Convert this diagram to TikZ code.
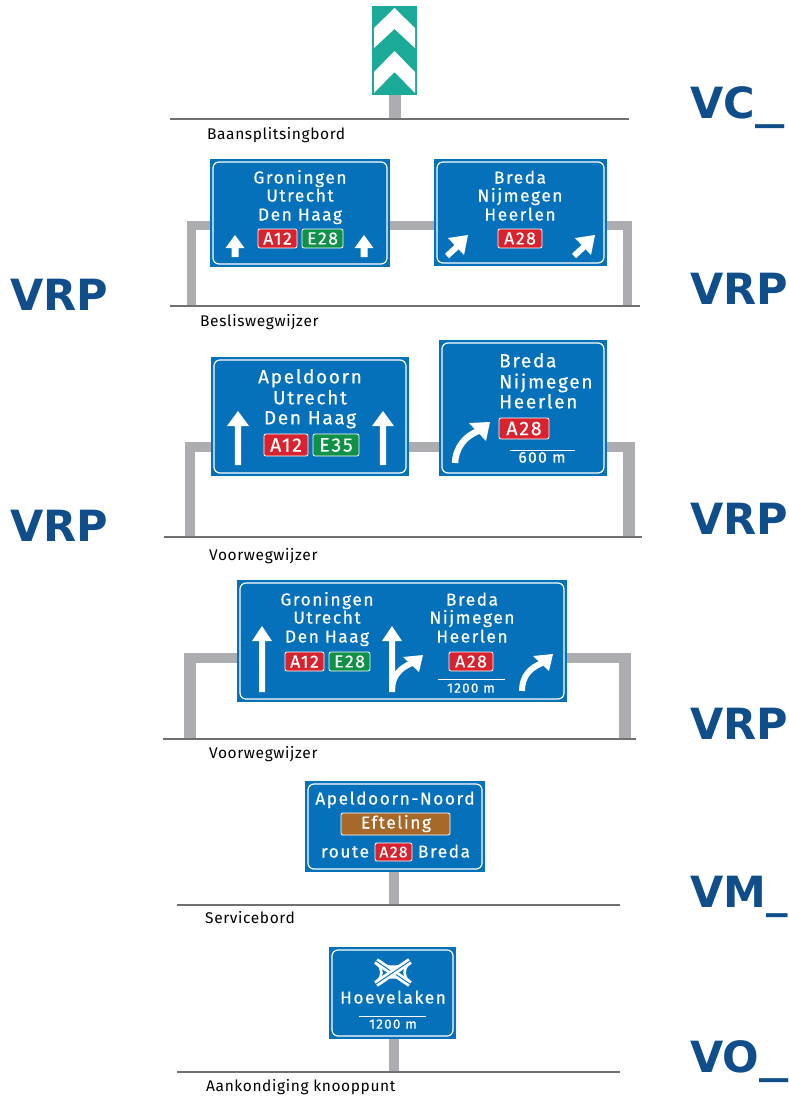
\documentclass[tikz,border=0pt]{standalone}
\usepackage{fontspec}
\setmainfont{Fira Sans}
\newfontfamily\signfont[LetterSpace=9,FakeBold=0.5]{Fira Sans}
\newfontfamily\labelfont[LetterSpace=4]{Fira Sans}
\newfontfamily\codefont{DejaVu Sans}
\definecolor{signblue}{HTML}{0571BA}
\definecolor{postgrey}{HTML}{ABADB0}
\definecolor{groundgrey}{HTML}{707070}
\definecolor{shieldred}{HTML}{D8232F}
\definecolor{shieldgreen}{HTML}{0F9148}
\definecolor{brownsign}{HTML}{A8682A}
\definecolor{chevteal}{HTML}{1BAA98}
\definecolor{codeblue}{HTML}{104E8B}
\newcommand{\wideus}{\scalebox{1.36}[1]{\_}}
\tikzset{
 x=1pt,y=-1pt,
 post/.style={fill=postgrey,draw=none},
 ground/.style={draw=groundgrey,line width=1.1pt},
 signbg/.style={fill=signblue,draw=none},
 signrim/.style={draw=white,line width=1.2pt,rounded corners=6pt},
 signtext/.style={text=white,inner sep=0pt,anchor=base,yshift=-5.5pt,font=\signfont\fontsize{17.3}{17.3}\selectfont},
 bigtext/.style={text=white,inner sep=0pt,anchor=base,yshift=-6.3pt,font=\signfont\fontsize{19}{19}\selectfont},
 dist/.style={text=white,inner sep=0pt,anchor=base,yshift=-4.6pt,font=\signfont\fontsize{13.5}{13.5}\selectfont},
 shield/.style={text=white,inner sep=0pt},
 caption/.style={text=black,inner sep=0pt,anchor=base west,font=\labelfont\fontsize{15.5}{15.5}\selectfont},
 code/.style={text=codeblue,inner sep=0pt,anchor=base west,font=\codefont\bfseries\fontsize{43}{43}\selectfont},
 whiteline/.style={draw=white,line width=0.8pt},
 stem/.style={draw=white,line width=6.4pt},
}
\newcommand{\panel}[5]{%
 \path[signbg] (#2,#3) rectangle (#4,#5);
 \coordinate (#1) at (#2,#3);
 \draw[signrim] (#2+3,#3+3) rectangle (#4-3,#5-3);
}
\newcommand{\shieldbox}[7]{%
 \draw[fill=#6,draw=white,line width=0.8pt,rounded corners=2pt] (#2,#3) rectangle (#4,#5);
 \node[shield,font=\signfont\fontsize{#1}{#1}\selectfont] at ({(#2+#4)/2},{(#3+#5)/2}) {#7};
}
\newcommand{\straightarrow}[6]{%
 \fill[white] (#1-#6/2,#3) -- (#1-#6/2,#2+#5) -- (#1-#4/2,#2+#5) -- (#1,#2) -- (#1+#4/2,#2+#5) -- (#1+#6/2,#2+#5) -- (#1+#6/2,#3) -- cycle;
}
\newcommand{\diagarrow}[2]{%
 \draw[white,line width=6pt] (#1,#2) -- ++(14,-13);
 \fill[white] (#1+21,#2-21) -- (#1+1,#2-18) -- (#1+17,#2-1) -- cycle;
}
\begin{document}
\begin{tikzpicture}
\useasboundingbox (0,0) rectangle (788,1096);
\fill[white] (0,0) rectangle (788,1096);

% --- Baansplitsingbord
\path[post] (389,95) rectangle (401,119);
\fill[chevteal] (372,6) rectangle (417,95);
\fill[white] (394.5,8) -- (415,28) -- (415,48) -- (394.5,29) -- (374,48) -- (374,28) -- cycle;
\fill[white] (394.5,51) -- (415,72) -- (415,93) -- (394.5,72) -- (374,93) -- (374,72) -- cycle;
\draw[ground] (170,119) -- (629,119);
\node[caption] (capA) at (207,139) {Baansplitsingbord};

% --- Besliswegwijzer
\path[post] (187,221) rectangle (196,306);
\path[post] (187,221) rectangle (632,230);
\path[post] (623,221) rectangle (632,306);
\panel{s1}{210}{159}{390}{267}
\panel{s2}{434}{159}{607}{266}
\node[signtext] (t1a) at (300,178) {Groningen};
\node[signtext] (t1b) at (300,196) {Utrecht};
\node[signtext] (t1c) at (300,215) {Den Haag};
\shieldbox{17.5}{258}{229}{297}{248}{shieldred}{A12}
\shieldbox{17.5}{302}{229}{343}{248}{shieldgreen}{E28}
\straightarrow{235}{235}{257}{19}{13}{7}
\straightarrow{364}{235}{257}{19}{13}{7}
\node[signtext] (t2a) at (520,178) {Breda};
\node[signtext] (t2b) at (520,196) {Nijmegen};
\node[signtext] (t2c) at (520,215) {Heerlen};
\shieldbox{17.5}{498}{229}{542}{248}{shieldred}{A28}
\diagarrow{447}{256}
\diagarrow{574}{256}
\draw[ground] (170,306) -- (640,306);
\node[caption] (capB) at (200,326) {Besliswegwijzer};

% --- Voorwegwijzer 1
\path[post] (185,442) rectangle (195,537);
\path[post] (185,442) rectangle (635,452);
\path[post] (623,442) rectangle (635,537);
\panel{s3}{211}{357}{409}{476}
\panel{s4}{439}{340}{607}{476}
\node[bigtext] (t3a) at (310,377) {Apeldoorn};
\node[bigtext] (t3b) at (310,398) {Utrecht};
\node[bigtext] (t3c) at (310,418) {Den Haag};
\shieldbox{19.5}{264}{434}{308}{456}{shieldred}{A12}
\shieldbox{19.5}{313}{434}{359}{456}{shieldgreen}{E35}
\straightarrow{238}{411}{465}{22}{15}{6.4}
\straightarrow{383}{411}{465}{22}{15}{6.4}
\node[bigtext,anchor=base west] (t4a) at (499,361) {Breda};
\node[bigtext,anchor=base west] (t4b) at (499,382) {Nijmegen};
\node[bigtext,anchor=base west] (t4c) at (499,402) {Heerlen};
\shieldbox{19.5}{499}{418}{549}{439}{shieldred}{A28}
\draw[whiteline] (510,450) -- (575,450);
\node[dist,font=\signfont\fontsize{15.5}{15.5}\selectfont] (d4) at (542,458) {600 m};
\draw[stem] (455,463) .. controls (456,446) and (466,436) .. (478,431);
\fill[white] (490,422) -- (469,423) -- (486,441) -- cycle;
\draw[ground] (164,537) -- (642,537);
\node[caption] (capC) at (209,560) {Voorwegwijzer};

% --- Voorwegwijzer 2
\path[post] (184,653) rectangle (196,739);
\path[post] (184,653) rectangle (631,663);
\path[post] (619,653) rectangle (631,739);
\panel{s5}{237}{580}{567}{702}
\node[signtext] (t5a) at (327,600) {Groningen};
\node[signtext] (t5b) at (327,618) {Utrecht};
\node[signtext] (t5c) at (327,637) {Den Haag};
\shieldbox{17.5}{285}{652}{324}{671}{shieldred}{A12}
\shieldbox{17.5}{329}{652}{370}{671}{shieldgreen}{E28}
\straightarrow{262}{626}{692}{20}{15}{6}
\straightarrow{392}{626}{692}{20}{15}{6}
\draw[stem,line width=6pt] (392,690) .. controls (392,676) and (400,668) .. (412,663);
\fill[white] (423,655) -- (403,657) -- (419,672) -- cycle;
\node[signtext] (t6a) at (472,600) {Breda};
\node[signtext] (t6b) at (472,618) {Nijmegen};
\node[signtext] (t6c) at (472,637) {Heerlen};
\shieldbox{17.5}{449}{652}{493}{671}{shieldred}{A28}
\draw[whiteline] (438,679) -- (505,679);
\node[dist] (d6) at (471,688) {1200 m};
\draw[stem,line width=6pt] (522,691) .. controls (522,676) and (530,668) .. (542,663);
\fill[white] (553,654) -- (533,656) -- (549,671) -- cycle;
\draw[ground] (163,739) -- (636,739);
\node[caption] (capD) at (209,758) {Voorwegwijzer};

% --- Servicebord
\path[post] (389,872) rectangle (399,905);
\panel{s7}{305}{781}{485}{872}
\node[signtext] (t7a) at (395,799) {Apeldoorn-Noord};
\draw[fill=brownsign,draw=white,line width=0.8pt,rounded corners=2pt] (341,813) rectangle (450,835);
\node[signtext] (t7b) at (396,823) {Efteling};
\node[signtext] (t7c) at (345,852) {route};
\shieldbox{15.5}{375}{843}{412}{861}{shieldred}{A28}
\node[signtext] (t7d) at (444,852) {Breda};
\draw[ground] (177,905) -- (620,905);
\node[caption] (capE) at (205,923) {Servicebord};

% --- Aankondiging knooppunt
\path[post] (389,1039) rectangle (399,1072);
\panel{s8}{329}{947}{456}{1039}
\draw[white,line width=2.6pt] (378,963) .. controls (386,968) and (400,968) .. (408,963);
\draw[white,line width=2.6pt] (378,981) .. controls (386,976) and (400,976) .. (408,981);
\draw[white,line width=2.6pt] (377,964) .. controls (383,968) and (383,977) .. (377,981);
\draw[white,line width=2.6pt] (409,964) .. controls (403,968) and (403,977) .. (409,981);
\draw[white,line width=6.5pt] (376,961) -- (410,984);
\draw[signblue,line width=0.9pt] (376,961) -- (410,984);
\draw[signblue,line width=1.6pt] (414,958.5) -- (373,986.5);
\draw[white,line width=6.5pt] (410,961) -- (376,984);
\draw[signblue,line width=0.9pt] (410,961) -- (376,984);
\node[signtext] (t8a) at (393,998) {Hoevelaken};
\draw[whiteline] (359,1016) -- (426,1016);
\node[dist] (d8) at (393,1024) {1200 m};
\draw[ground] (177,1072) -- (620,1072);
\node[caption] (capF) at (206,1091) {Aankondiging knooppunt};

% --- codes
\node[code] (c1) at (690,118) {VC\wideus};
\node[code] (c2) at (10,310) {VRP};
\node[code] (c3) at (690,304) {VRP};
\node[code] (c4) at (10,541) {VRP};
\node[code] (c5) at (690,534) {VRP};
\node[code] (c6) at (690,739) {VRP};
\node[code] (c7) at (690,907) {VM\_};
\node[code] (c8) at (690,1072) {VO\wideus};
\end{tikzpicture}
\end{document}
